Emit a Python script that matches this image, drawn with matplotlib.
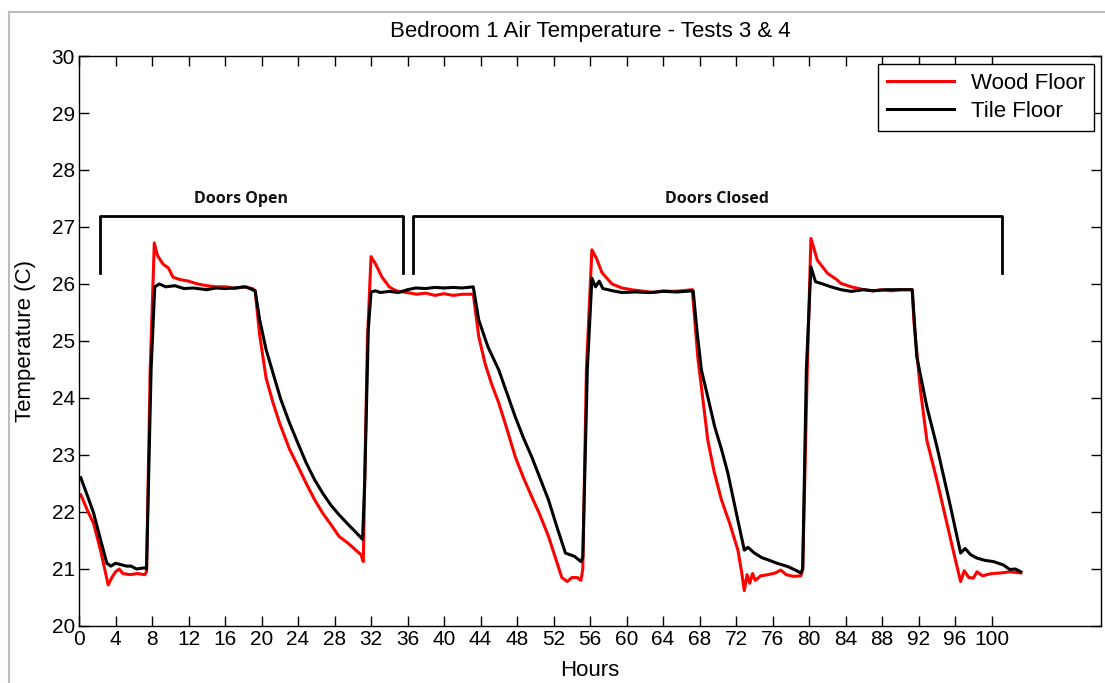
import matplotlib.pyplot as plt
from matplotlib.lines import Line2D

# ---------------------------------------------------------------------------------
# Data (hours, temperature in C)
# ---------------------------------------------------------------------------------

wood_hours = [0.2, 1.0, 1.6, 2.4, 3.2, 3.6, 4.0, 4.4, 4.8, 5.6, 6.4, 7.2, 7.4, 7.8, 8.25,
              8.6, 9.2, 9.8, 10.3, 11.0, 12.0, 13.0, 14.0, 15.0, 16.2, 17.0, 18.0, 19.0, 19.3,
              19.8, 20.5, 21.25, 22.0, 23.07, 24.0, 24.9, 25.8, 26.7, 27.6, 28.5, 29.5, 30.2,
              30.9, 31.15, 31.3, 31.6, 32.0, 32.5, 33.2, 34.0, 34.5, 35.0, 36.0, 37.0, 38.0,
              39.0, 40.0, 41.0, 42.0, 43.2, 43.8, 44.5, 45.2, 46.0, 46.9, 47.8, 48.7, 49.6,
              50.5, 51.45, 52.2, 52.9, 53.5, 54.0, 54.6, 55.0, 55.2, 55.6, 56.2, 56.7, 57.3,
              58.4, 59.5, 60.5, 62.0, 63.0, 64.0, 65.0, 66.0, 67.2, 67.8, 68.9, 69.6, 70.4,
              71.3, 72.2, 72.6, 72.9, 73.2, 73.5, 73.8, 74.1, 74.7, 75.5, 76.3, 76.9, 77.5,
              78.3, 79.1, 79.3, 79.8, 80.2, 80.9, 82.0, 83.0, 83.5, 84.6, 86.0, 87.0, 88.0,
              89.0, 90.0, 91.3, 91.5, 92.2, 92.9, 94.0, 95.1, 95.9, 96.6, 97.0, 97.5, 98.0,
              98.4, 99.0, 100.0, 101.0, 102.0, 103.2]
wood_temp = [22.3, 22.0, 21.8, 21.3, 20.72, 20.85, 20.95, 21.0, 20.92, 20.9, 20.92, 20.9, 20.95,
             24.5, 26.72, 26.5, 26.35, 26.28, 26.12, 26.08, 26.05, 26.0, 25.97, 25.95, 25.95,
             25.92, 25.95, 25.92, 25.88, 25.1, 24.35, 23.92, 23.55, 23.1, 22.8, 22.5, 22.22,
             21.98, 21.78, 21.57, 21.45, 21.35, 21.25, 21.13, 22.5, 25.0, 26.48, 26.35, 26.12,
             25.95, 25.9, 25.87, 25.85, 25.82, 25.84, 25.8, 25.83, 25.8, 25.82, 25.82, 25.08,
             24.6, 24.25, 23.91, 23.45, 22.97, 22.6, 22.27, 21.95, 21.57, 21.2, 20.85, 20.78,
             20.85, 20.85, 20.8, 21.0, 24.5, 26.6, 26.45, 26.2, 26.0, 25.93, 25.9, 25.87, 25.85,
             25.88, 25.87, 25.88, 25.9, 24.72, 23.26, 22.7, 22.21, 21.8, 21.33, 20.95, 20.62,
             20.9, 20.75, 20.92, 20.8, 20.88, 20.9, 20.93, 20.98, 20.9, 20.87, 20.88, 21.0, 24.5,
             26.8, 26.42, 26.19, 26.08, 26.01, 25.95, 25.9, 25.88, 25.9, 25.88, 25.9, 25.9,
             25.31, 24.14, 23.26, 22.56, 21.8, 21.25, 20.78, 20.97, 20.85, 20.84, 20.95, 20.88,
             20.92, 20.93, 20.95, 20.93]

tile_hours = [0.2, 1.0, 1.6, 2.3, 3.05, 3.5, 4.0, 4.5, 5.2, 5.7, 6.3, 7.2, 7.4, 7.9, 8.3, 8.8,
              9.5, 10.5, 11.5, 12.5, 14.0, 15.0, 16.0, 17.0, 18.3, 19.0, 19.3, 19.8, 20.5, 21.25,
              22.1, 23.07, 24.0, 24.9, 25.8, 26.7, 27.6, 28.5, 29.5, 30.3, 31.07, 31.3, 31.7,
              32.0, 32.5, 33.0, 34.0, 35.0, 36.0, 36.9, 38.0, 39.0, 40.0, 41.0, 42.0, 43.2, 43.8,
              44.8, 46.0, 46.9, 47.8, 48.7, 49.6, 50.5, 51.45, 52.4, 53.3, 53.8, 54.3, 55.0, 55.2,
              55.7, 56.2, 56.6, 57.0, 57.4, 58.5, 59.5, 61.0, 62.5, 64.0, 65.5, 67.3, 67.7, 68.2,
              69.0, 69.65, 70.4, 71.1, 72.0, 72.9, 73.3, 74.0, 74.8, 75.5, 76.5, 77.7, 78.5,
              79.1, 79.3, 79.7, 80.2, 80.7, 81.5, 82.4, 83.5, 84.6, 86.0, 87.0, 88.5, 90.0, 91.3,
              91.8, 92.9, 94.0, 95.5, 96.6, 97.1, 97.7, 98.4, 99.3, 100.2, 101.3, 102.0, 102.6,
              103.2]
tile_temp = [22.6, 22.25, 21.98, 21.55, 21.1, 21.05, 21.1, 21.08, 21.05, 21.05, 21.0, 21.02, 21.0,
             24.5, 25.95, 26.0, 25.95, 25.97, 25.92, 25.93, 25.9, 25.93, 25.92, 25.93, 25.95,
             25.9, 25.88, 25.37, 24.85, 24.44, 23.98, 23.56, 23.2, 22.86, 22.57, 22.33, 22.12,
             21.95, 21.78, 21.65, 21.52, 22.5, 25.2, 25.86, 25.88, 25.85, 25.87, 25.85, 25.9,
             25.93, 25.92, 25.94, 25.93, 25.94, 25.93, 25.95, 25.37, 24.9, 24.49, 24.08, 23.67,
             23.3, 22.97, 22.6, 22.21, 21.72, 21.28, 21.25, 21.22, 21.13, 21.2, 24.5, 26.1,
             25.95, 26.05, 25.92, 25.88, 25.85, 25.86, 25.85, 25.87, 25.86, 25.88, 25.2, 24.49,
             23.95, 23.5, 23.1, 22.68, 22.0, 21.33, 21.38, 21.28, 21.2, 21.16, 21.1, 21.04,
             20.98, 20.93, 21.0, 24.5, 26.3, 26.04, 26.0, 25.95, 25.9, 25.87, 25.9, 25.88, 25.9,
             25.9, 25.9, 24.72, 23.85, 23.15, 22.09, 21.28, 21.36, 21.25, 21.19, 21.15, 21.13,
             21.07, 20.99, 21.0, 20.95]

x_ticks = list(range(0, 101, 4))
y_ticks = list(range(20, 31))

# bracket annotations: label, start hour, end hour, label position (hour)
bracket_labels = ['Doors Open', 'Doors Closed']
bracket_start = [2.25, 36.6]
bracket_end = [35.5, 101.1]
bracket_label_x = [17.7, 69.95]
bracket_top = 27.19
bracket_bottom = 26.19

# ---------------------------------------------------------------------------------
# Plot
# ---------------------------------------------------------------------------------

plt.rcParams['font.family'] = ['Liberation Sans', 'DejaVu Sans']

fig = plt.figure(figsize=(11.05, 6.83), dpi=100)
ax = fig.add_axes([0.0715, 0.0835, 0.925, 0.8345])

ax.plot(wood_hours, wood_temp, color='#ff0000', lw=2.2, label='Wood Floor')
ax.plot(tile_hours, tile_temp, color='black', lw=2.2, label='Tile Floor')

for label, h0, h1, hx in zip(bracket_labels, bracket_start, bracket_end, bracket_label_x):
    ax.plot([h0, h0, h1, h1], [bracket_bottom, bracket_top, bracket_top, bracket_bottom],
            color='black', lw=2)
    ax.text(hx, bracket_top + 0.16, label, ha='center', va='bottom',
            fontsize=11.5, fontweight='bold', family=['Open Sans', 'DejaVu Sans'], color='#111111')

ax.set_xlim(0, 112)
ax.set_ylim(20, 30)
ax.set_xticks(x_ticks)
ax.set_yticks(y_ticks)
ax.tick_params(direction='in', length=7, width=1, top=True, right=True, labelsize=15, pad=3)
for side in ax.spines.values():
    side.set_linewidth(1)

ax.set_xlabel('Hours', fontsize=16, labelpad=8)
ax.set_ylabel('Temperature (C)', fontsize=16, labelpad=11)
ax.set_title('Bedroom 1 Air Temperature - Tests 3 & 4', fontsize=16, pad=14)

leg = ax.legend(loc='upper right', fontsize=16, fancybox=False, framealpha=1,
                edgecolor='black', borderaxespad=0.3, handlelength=3.0, labelspacing=0.3,
                bbox_to_anchor=(1.0, 0.997))
leg.get_frame().set_linewidth(1)

# light frame of the original screenshot
fig.add_artist(Line2D([0.008, 0.008], [0, 0.982], color='#bbbbbb', lw=1.5))
fig.add_artist(Line2D([0.008, 1], [0.982, 0.982], color='#bbbbbb', lw=1.5))

fig.savefig('out.png', dpi=100)
